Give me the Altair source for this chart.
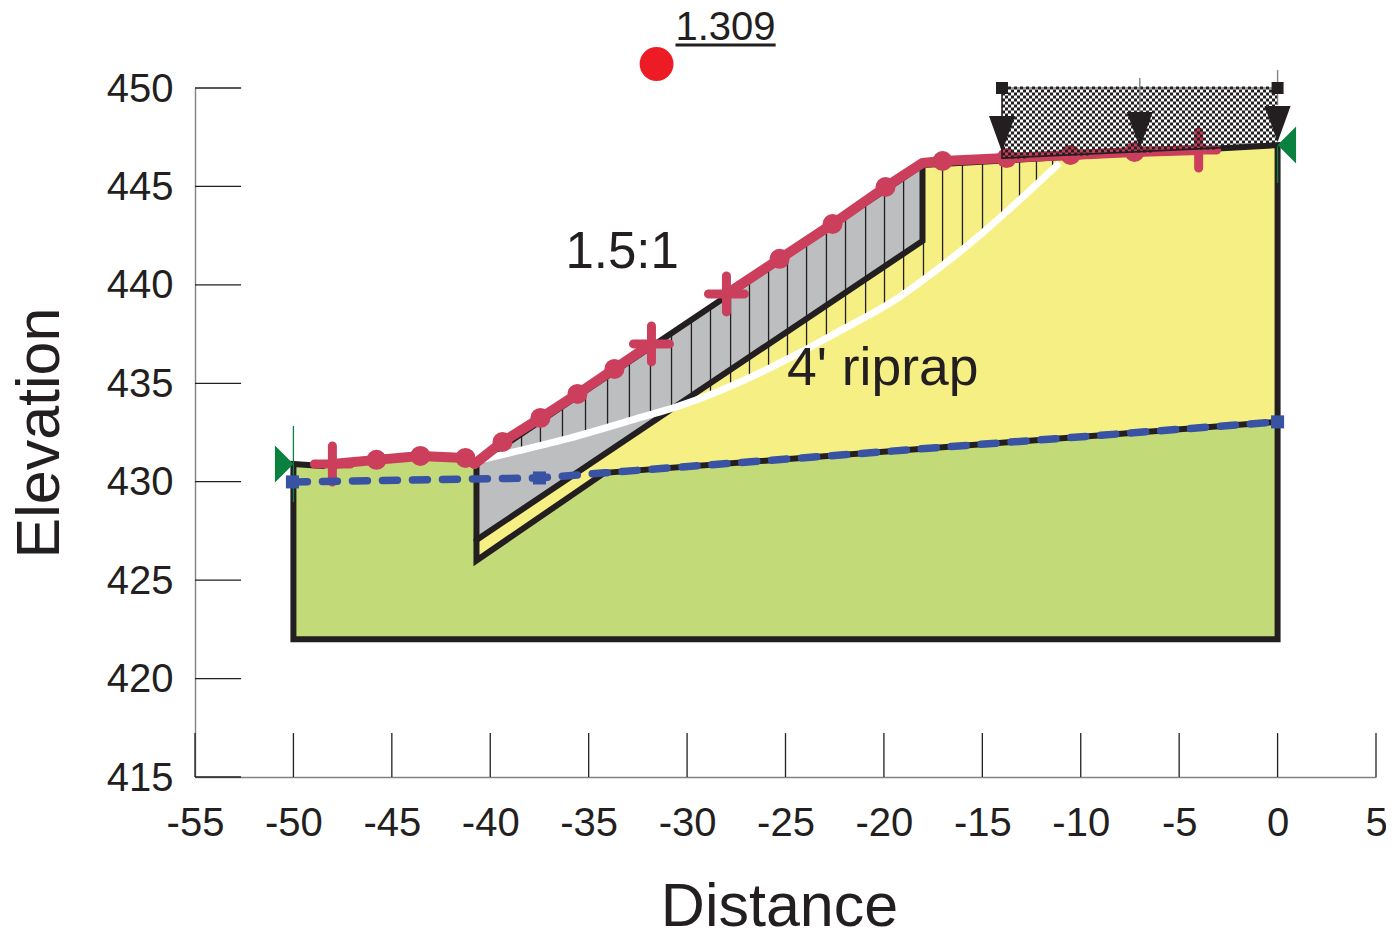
import altair as alt
import pandas as pd

FONT = "Liberation Sans"
INK = "#231F20"
GREEN = "#C2DA78"
YELLOW = "#F6F084"
GREY = "#BCBEC0"
RED = "#CB3F5C"
BLUE = "#3953A4"
TRI = "#0B8140"

x_ticks = [-55, -50, -45, -40, -35, -30, -25, -20, -15, -10, -5, 0, 5]
y_ticks = [415, 420, 425, 430, 435, 440, 445, 450]

green_x = [-50, -48, -43.55, -41.26, -40.7, -40.7, -34.2, 0]
green_top = [430.9, 430.9, 431.2, 431.1, 430.9, 426.0, 430.45, 433.04]
green_bot = [422, 422, 422, 422, 422, 422, 422, 422]

yellow_x = [-40.7, -34.2, -18.04, -18.04, 0]
yellow_top = [427.04, 431.39, 442.23, 446.09, 447.1]
yellow_bot = [426.0, 430.45, 431.67, 431.67, 433.04]

grey_x = [-40.7, -18.04]
grey_top = [430.9, 446.09]
grey_bot = [427.04, 442.23]

slice_x = [-38.41, -37.45, -36.33, -35.16, -34.04, -32.93, -31.86, -30.79, -29.78, -28.81,
           -27.79, -26.83, -25.86, -24.90, -23.93, -22.92, -21.95, -20.93, -19.97, -19.00,
           -17.99, -17.02, -16.01, -14.99, -14.02, -13.11, -12.25, -11.43]
slice_top = [432.44, 433.09, 433.84, 434.62, 435.37, 436.11, 436.83, 437.55, 438.22, 438.87,
             439.56, 440.20, 440.85, 441.49, 442.14, 442.82, 443.47, 444.15, 444.80, 445.45,
             446.09, 446.15, 446.20, 446.26, 446.32, 446.37, 446.41, 446.46]
slice_bot = [431.62, 431.84, 432.12, 432.43, 432.78, 433.09, 433.44, 433.75, 434.10, 434.51,
             434.97, 435.37, 435.83, 436.29, 436.74, 437.25, 437.81, 438.37, 438.88, 439.44,
             440.15, 440.91, 441.72, 442.59, 443.45, 444.31, 445.12, 445.89]

slip_x = [-40.55, -36.33, -32.27, -30.54, -24.29, -22.61, -19.2, -17.53, -14.99, -13.11, -11.08]
slip_y = [431.1, 432.12, 433.29, 433.8, 436.54, 437.46, 439.39, 440.6, 442.64, 444.31, 446.19]

black_paths = {
    "outer": ([-48.5, -50, -50, 0, 0, -18.04], [430.8, 430.9, 422, 422, 447.1, 446.09]),
    "ground": ([-40.7, -18.04], [430.9, 446.09]),
    "cut": ([-40.7, -40.7, -34.2, 0], [430.9, 426.0, 430.45, 433.04]),
    "riprap": ([-40.7, -18.04, -18.04], [427.04, 442.23, 446.09]),
}

red_left_x = [-48.02, -45.78, -43.55, -41.26, -40.8, -39.38, -37.45, -35.57, -33.69, -31.81]
red_left_y = [430.90, 431.11, 431.31, 431.21, 430.9, 432.02, 433.24, 434.46, 435.73, 437.0]
red_right_x = [-28.0, -25.3, -22.61, -19.92, -18.04, -17.02, -13.77, -10.52, -7.27, -4.01]
red_right_y = [439.54, 441.32, 443.09, 444.97, 446.19, 446.29, 446.44, 446.6, 446.75, 446.85]
dot_x = [-45.78, -43.55, -41.26, -39.38, -37.45, -35.57, -33.69, -25.3, -22.61, -19.92, -17.02, -13.77, -10.52, -7.27]
dot_y = [431.11, 431.31, 431.21, 432.02, 433.24, 434.46, 435.73, 441.32, 443.09, 444.97, 446.29, 446.44, 446.6, 446.75]
cross_x = [-48.02, -31.81, -28.0, -4.01]
cross_y = [430.90, 437.0, 439.54, 446.85]

blue_x = [-50.05, -37.5, -34.2, 0]
blue_y = [429.99, 430.19, 430.45, 433.04]
blue_sq_x = [-50.05, -37.5, 0]
blue_sq_y = [429.99, 430.19, 433.04]

# texture rows of the surcharge block
hatch_a_y = [450.0, 449.695, 449.39, 449.086, 448.781, 448.476, 448.171, 447.866, 447.562, 447.257, 446.952, 446.647]
hatch_a_x2 = [0, 0, 0, 0, 0, 0, 0, 0, 0, 0, -3.15, -9.6]
hatch_b_y = [449.848, 449.543, 449.238, 448.933, 448.628, 448.324, 448.019, 447.714, 447.409, 447.105, 446.8, 446.495]
hatch_b_x2 = [0, 0, 0, 0, 0, 0, 0, 0, 0, 0, -6.4, -12.8]

arrow_x = [-14, -7, 0]
arrow_tip = [446.75, 446.95, 447.26]
stem_x = [-7, 0]
stem_top = [450.51, 450.91]
stem_bot = [448.78, 449.14]
load_sq_x = [-14, 0]
load_sq_y = [450, 450]

X = alt.Scale(domain=[-55, 5], nice=False, zero=False)
Y = alt.Scale(domain=[415, 450], nice=False, zero=False)

axis_base = dict(
    ticks=False, domainColor="#808285", domainWidth=1.4, grid=False,
    labelFont=FONT, labelFontSize=40, labelColor=INK, labelOverlap=False,
    labelFlush=False, labelExpr="'' + datum.value",
    titleFont=FONT, titleFontSize=61, titleColor=INK, titleFontWeight="normal",
)
AX = alt.Axis(values=x_ticks, labelPadding=26, titlePadding=34, titleX=584, title="Distance", **axis_base)
AY = alt.Axis(values=y_ticks, labelPadding=22, labelOffset=1, titlePadding=35, title="Elevation", **axis_base)


def xe(f="x", **k):
    return alt.X(f"{f}:Q", scale=X, axis=AX, **k)


def ye(f="y", **k):
    return alt.Y(f"{f}:Q", scale=Y, axis=AY, **k)


def df(**k):
    return pd.DataFrame(k)


def area(xs, top, bot, color):
    d = df(x=xs, y=top, y2=bot)
    return alt.Chart(d).mark_area(color=color, opacity=1, orient="vertical").encode(
        xe(), ye(), y2="y2:Q")


def line(xs, ys, color, width, **k):
    d = df(x=xs, y=ys, i=list(range(len(xs))))
    return alt.Chart(d).mark_line(color=color, strokeWidth=width, **k).encode(xe(), ye(), order="i:Q")


def pts(xs, ys, **k):
    return alt.Chart(df(x=xs, y=ys)).mark_point(opacity=1, **k).encode(xe(), ye())


def txt(s, x, y, size):
    return alt.Chart(df(x=[x], y=[y], t=[s])).mark_text(
        align="left", baseline="alphabetic", font=FONT, fontSize=size, color=INK
    ).encode(xe(), ye(), text="t:N")


ytick = alt.Chart(df(y=y_ticks, x=[-55] * len(y_ticks), x2=[-52.66] * len(y_ticks))).mark_rule(
    color=INK, strokeWidth=1.3).encode(xe(), x2="x2:Q", y=ye())
xtick = alt.Chart(df(x=x_ticks, y=[415] * len(x_ticks), y2=[417.23] * len(x_ticks))).mark_rule(
    color=INK, strokeWidth=1.3).encode(xe(), ye(), y2="y2:Q")

slices = alt.Chart(df(x=slice_x, y=slice_top, y2=slice_bot)).mark_rule(
    color=INK, strokeWidth=1.3).encode(xe(), ye(), y2="y2:Q")

black = [line(v[0], v[1], INK, 6, strokeJoin="miter", strokeCap="round") for v in black_paths.values()]

green_lines = alt.Chart(df(x=[-50, 0], y=[432.83, 447.1], y2=[428.97, 445.18])).mark_rule(
    color=TRI, strokeWidth=1.3).encode(xe(), ye(), y2="y2:Q")


def hatch(ys, x2s, offset):
    d = df(y=ys, x=[-14] * len(ys), x2=x2s)
    return alt.Chart(d).mark_rule(color=INK, strokeWidth=3, strokeDash=[3, 3],
                                  strokeDashOffset=offset).encode(xe(), x2="x2:Q", y=ye())


stems = alt.Chart(df(x=stem_x, y=stem_top, y2=stem_bot)).mark_rule(
    color="#808285", strokeWidth=1.4).encode(xe(), ye(), y2="y2:Q")

chart = alt.layer(
    area(green_x, green_top, green_bot, GREEN),
    area(yellow_x, yellow_top, yellow_bot, YELLOW),
    area(grey_x, grey_top, grey_bot, GREY),
    slices,
    *black,
    line(slip_x, slip_y, "white", 7, interpolate="monotone"),
    green_lines,
    line(red_left_x, red_left_y, RED, 10, strokeCap="round", strokeJoin="round"),
    line(red_right_x, red_right_y, RED, 10, strokeCap="round", strokeJoin="round"),
    pts(dot_x, dot_y, shape="circle", filled=True, color=RED, size=400),
    pts(cross_x, cross_y, shape="M-1,0L1,0M0,-1L0,1", filled=False, color=RED, size=1296,
        strokeWidth=9, strokeCap="round"),
    line(blue_x, blue_y, BLUE, 7.5, strokeDash=[15, 15], strokeCap="round"),
    pts(blue_sq_x, blue_sq_y, shape="square", filled=True, color=BLUE, size=170),
    line([-14, -14, 0], [450, 446.44, 447.1], INK, 1.6),
    line([-14, 0], [450, 450], "#808285", 1.4),
    hatch(hatch_a_y, hatch_a_x2, 0),
    hatch(hatch_b_y, hatch_b_x2, 3),
    stems,
    pts(arrow_x, arrow_tip, shape="M-1,-2.77L1,-2.77L0,0Z", filled=True, color=INK, size=676),
    pts(load_sq_x, load_sq_y, shape="square", filled=True, color=INK, size=144),
    pts([-50], [430.9], shape="M0,0L-1,-1L-1,1Z", filled=True, color=TRI, size=1369),
    pts([0], [447.1], shape="M0,0L1,-1L1,1Z", filled=True, color=TRI, size=1369),
    pts([-31.55], [451.22], shape="circle", filled=True, color="#ED1C24", size=1150),
    txt("1.309", -30.59, 452.44, 40),
    line([-30.59, -25.5], [452.18, 452.18], INK, 3),
    txt("1.5:1", -36.18, 440.86, 51),
    txt("4' riprap", -24.93, 434.92, 53.5),
    ytick,
    xtick,
).properties(
    width=1181, height=689, autosize="none",
    padding={"left": 187, "top": 80, "right": 10, "bottom": 150},
    background="white",
).configure_view(stroke=None)

chart.save("out.html", embed_options={"renderer": "svg", "actions": False})
